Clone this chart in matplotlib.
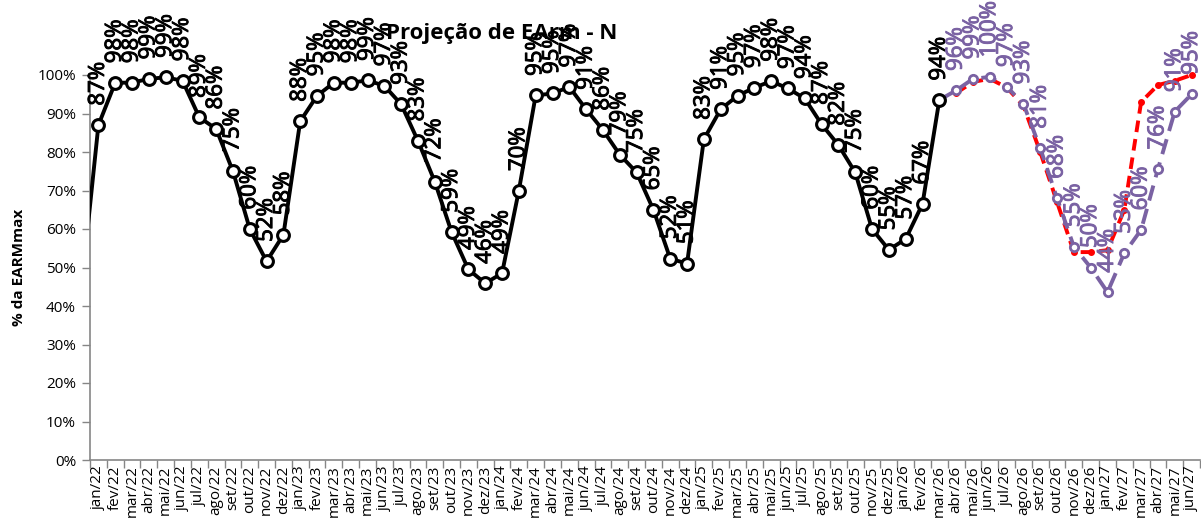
import matplotlib
matplotlib.use("Agg")
import matplotlib.pyplot as plt
import matplotlib.patheffects as pe
from matplotlib.ticker import FixedLocator, NullFormatter, FuncFormatter

# ---------------- data ----------------
month_names = ["jan", "fev", "mar", "abr", "mai", "jun", "jul", "ago", "set", "out", "nov", "dez"]
years = ["22", "23", "24", "25", "26", "27"]
categories = [f"{m}/{y}" for y in years for m in month_names][:66]  # jan/22 .. jun/27

# value of dez/21 (just left of the plot area, clipped)
black_prev = [45]
# Histórico (jan/22 .. mar/26)
black_values = [
    87, 98, 98, 99, 99.4, 98.5, 89, 86, 75, 60, 51.6, 58.5,
    88, 94.6, 98, 98, 98.6, 97.2, 92.4, 82.9, 72.3, 59.2, 49.5, 45.9,
    48.5, 70, 94.7, 95.2, 96.9, 91.1, 85.7, 79.3, 74.7, 65, 52.3, 51,
    83.3, 91.1, 94.6, 96.7, 98.4, 96.5, 93.9, 87.2, 81.8, 74.7, 60, 54.6,
    57.4, 66.5, 93.5,
]
black_labels = [
    "87%", "98%", "98%", "99%", "99%", "98%", "89%", "86%", "75%", "60%", "52%", "58%",
    "88%", "95%", "98%", "98%", "99%", "97%", "93%", "83%", "72%", "59%", "49%", "46%",
    "49%", "70%", "95%", "95%", "97%", "91%", "86%", "79%", "75%", "65%", "52%", "51%",
    "83%", "91%", "95%", "97%", "98%", "97%", "94%", "87%", "82%", "75%", "60%", "55%",
    "57%", "67%", "94%",
]
# Projeção (mar/26 .. jun/27)
purple_values = [93.5, 96, 99, 99.5, 97, 92.5, 81, 68, 55.4, 50, 43.6, 53.7, 59.8, 75.6, 90.5, 95]
purple_labels = ["", "96%", "99%", "100%", "97%", "93%", "81%", "68%", "55%", "50%",
                 "44%", "53%", "60%", "76%", "91%", "95%"]
# Cenário alternativo (abr/26 .. jun/27)
red_values = [95.3, 98.2, 99, 96.8, 92, 80, 67, 54, 54, 54.5, 65, 93, 97.4, 98.5, 100]

# ---------------- figure ----------------
fig = plt.figure(figsize=(12.01, 5.25), dpi=100)
ax = fig.add_axes([90 / 1201, 1 - 460 / 525, 1110 / 1201, 385 / 525])
ax.set_facecolor("none")

FONT = "Open Sans"
purple = "#7A62A3"

n = len(categories)
x_black = list(range(-len(black_prev), len(black_values)))
ax.plot(x_black[:len(black_prev) + 1], black_prev + black_values[:1], color="black", lw=2.8,
        zorder=3)
ax.plot(range(len(black_values)), black_values, color="black", lw=2.8, marker="o",
        markersize=8.5, markerfacecolor="white", markeredgecolor="black", markeredgewidth=2.2,
        zorder=4, clip_on=False)

x_purple = list(range(50, 50 + len(purple_values)))
x_red = list(range(51, 51 + len(red_values)))
ax.plot(x_red, red_values, color="#FF0000", lw=2.8, ls=(0, (3, 1.8)), marker="o", markersize=4,
        markerfacecolor="#FF0000", markeredgecolor="#FF0000", zorder=3, clip_on=False)
ax.plot(x_purple, purple_values, color=purple, lw=2.8, ls=(0, (4, 2.2)), marker="o",
        markersize=6, markerfacecolor="white", markeredgecolor=purple, markeredgewidth=2.0,
        zorder=3.5, clip_on=False)

# data labels
LBL = dict(textcoords="offset points", rotation=90, ha="center", va="bottom", fontsize=16,
           family=FONT, zorder=6, annotation_clip=False)
for xi, v, lab in zip(range(len(black_values)), black_values, black_labels):
    ax.annotate(lab, (xi, v), xytext=(0, 14), color="black",
                path_effects=[pe.withStroke(linewidth=0.7, foreground="black")], **LBL)
for xi, v, lab in zip(x_purple, purple_values, purple_labels):
    if lab:
        ax.annotate(lab, (xi, v), xytext=(0, 14), color=purple,
                    path_effects=[pe.withStroke(linewidth=0.7, foreground=purple)], **LBL)

# axes
ax.set_xlim(-0.5, n - 0.5)
ax.set_ylim(0, 100)
ax.set_yticks(range(0, 101, 10))
ax.yaxis.set_major_formatter(FuncFormatter(lambda v, p: f"{int(v)}%"))
ax.xaxis.set_major_locator(FixedLocator([i - 0.5 for i in range(n + 1)]))
ax.xaxis.set_major_formatter(NullFormatter())
ax.xaxis.set_minor_locator(FixedLocator(list(range(n))))
ax.set_xticklabels(categories, minor=True, rotation=90, fontsize=11, family=FONT)
ax.tick_params(axis="x", which="major", length=6, color="#868686", width=1)
ax.tick_params(axis="x", which="minor", length=0, pad=4)
ax.tick_params(axis="y", length=6, color="#868686", width=1, labelsize=11, pad=4)
for lab in ax.get_yticklabels():
    lab.set_family(FONT)
for s in ["top", "right"]:
    ax.spines[s].set_visible(False)
for s in ["left", "bottom"]:
    ax.spines[s].set_color("#868686")
    ax.spines[s].set_linewidth(1.2)

ax.set_ylabel("% da EARMmax", fontsize=11, fontweight="bold", family=FONT, labelpad=8)

t = fig.text(502 / 1201, 1 - 33 / 525, "Projeção de EArm - N", ha="center", va="center",
             fontsize=16, fontweight="bold", family=FONT)
t.set_zorder(-1)

fig.savefig("out.png", dpi=100)
